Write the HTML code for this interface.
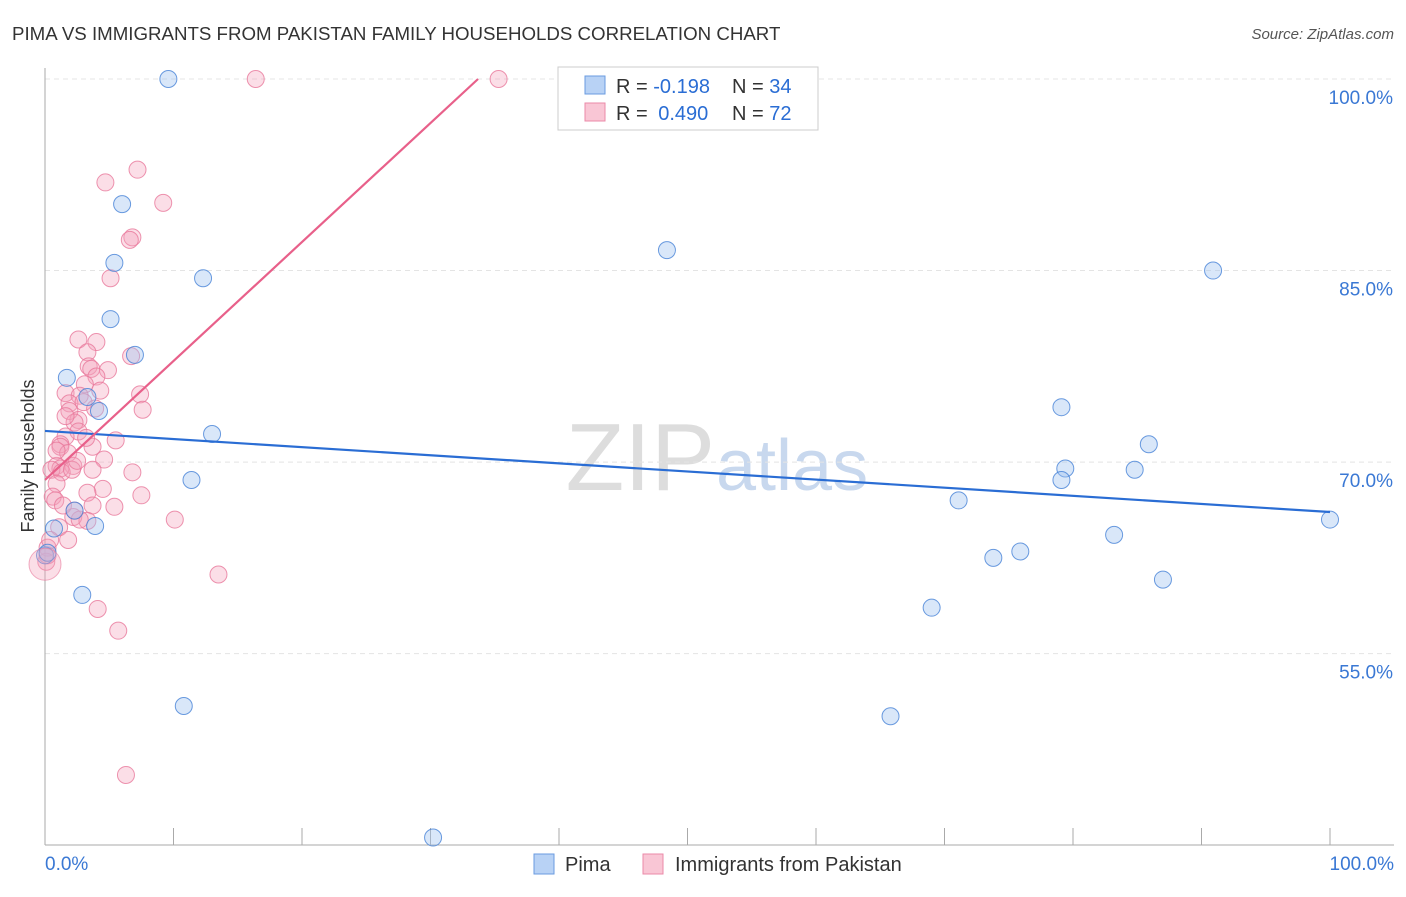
<!DOCTYPE html>
<html><head><meta charset="utf-8"><style>
body{margin:0;background:#fff;font-family:"Liberation Sans",sans-serif}
svg text{font-family:"Liberation Sans",sans-serif}
</style></head><body>
<svg id="c" width="1406" height="892">
<text x="12" y="40" font-size="18.7" fill="#333">PIMA VS IMMIGRANTS FROM PAKISTAN FAMILY HOUSEHOLDS CORRELATION CHART</text>
<text x="1394" y="39" font-size="15" fill="#555" text-anchor="end" font-style="italic">Source: ZipAtlas.com</text>
<text x="715" y="490" font-size="96" fill="#ddd" text-anchor="end" font-family="Liberation Serif">ZIP</text>
<text x="716" y="490" font-size="72" fill="#c8d8ee">atlas</text>
<g id="grid"></g><g id="axes"></g><g id="pts"></g><g id="lines"></g>
<text transform="translate(34,456) rotate(-90)" font-size="18" fill="#333" text-anchor="middle">Family Households</text>
<g>
<rect x="558" y="67" width="260" height="63" fill="#fff" stroke="#ccc"/>
<rect x="585" y="76" width="20" height="18" fill="#b8d2f5" stroke="#6a9be0"/>
<rect x="585" y="103" width="20" height="18" fill="#f9c6d5" stroke="#eb8aa8"/>
<text x="616" y="93" font-size="20" fill="#333">R = <tspan fill="#2a6dd4">-0.198</tspan><tspan x="732">N = </tspan><tspan fill="#2a6dd4">34</tspan></text>
<text x="616" y="120" font-size="20" fill="#333">R = <tspan fill="#2a6dd4" dx="5">0.490</tspan><tspan x="732">N = </tspan><tspan fill="#2a6dd4">72</tspan></text>
</g>
<g>
<rect x="534" y="854" width="20" height="20" fill="#b8d2f5" stroke="#6a9be0"/>
<text x="565" y="871" font-size="20" fill="#333">Pima</text>
<rect x="643" y="854" width="20" height="20" fill="#f9c6d5" stroke="#eb8aa8"/>
<text x="675" y="871" font-size="20" fill="#333">Immigrants from Pakistan</text>
</g>
</svg>
<script>
const yTicks=[100,85,70,55];
const yTickLabels=["100.0%","85.0%","70.0%","55.0%"];
const xTickLabels=["0.0%","100.0%"];
const pimaX=[9.6,6.0,5.4,12.3,5.1,7.0,1.7,4.2,3.3,13.0,11.4,2.3,3.9,0.7,2.9,10.8,0,0.2,30.2,48.4,90.9,79.1,85.9,79.4,79.1,84.8,71.1,83.2,75.9,73.8,87.0,69.0,65.8,100];
const pimaY=[100,90.2,85.6,84.4,81.2,78.4,76.6,74.0,75.1,72.2,68.6,66.2,65.0,64.8,59.6,50.9,62.7,62.9,40.6,86.6,85.0,74.3,71.4,69.5,68.6,69.4,67.0,64.3,63.0,62.5,60.8,58.6,50.1,65.5];
const pakX=[16.4,35.3,7.2,4.7,9.2,6.8,6.6,5.1,2.6,4.0,3.3,6.7,3.4,3.6,4.9,4.0,3.1,7.4,1.6,2.7,1.9,3.0,7.6,1.9,2.6,2.3,2.6,1.6,5.5,1.2,3.7,1.2,1.8,4.6,0.9,2.2,1.2,0.5,1.3,6.8,0.9,4.5,3.3,0.6,3.7,5.4,7.5,2.2,3.3,2.7,10.1,1.1,1.8,13.5,4.1,5.7,6.3,0.2,0.1,0.2,0.4,0.8,1.4,2.1,3.2,2.5,3.7,1.6,4.3,0.9,2.3,3.9];
const pakY=[100,100,92.9,91.9,90.3,87.6,87.4,84.4,79.6,79.4,78.6,78.3,77.5,77.3,77.2,76.7,76.1,75.3,75.4,75.2,74.6,74.7,74.1,74.0,73.3,73.1,72.4,72.0,71.7,71.4,71.2,71.2,70.7,70.2,69.7,69.7,69.5,69.4,69.2,69.2,68.3,67.9,67.6,67.3,66.6,66.5,67.4,65.7,65.4,65.5,65.5,64.9,63.9,61.2,58.5,56.8,45.5,63.3,62.2,62.7,63.9,67.0,66.6,69.4,71.9,70.1,69.4,73.6,75.6,70.9,66.2,74.2];
const blueLine=[[0,72.44],[100,66.09]];
const pinkLine=[[0,68.6],[33.7,100]];
const NS='http://www.w3.org/2000/svg';
const X=v=>45+v*12.85, Y=v=>79+(100-v)*12.77;
function mk(p,t,a){const e=document.createElementNS(NS,t);for(const k in a)e.setAttribute(k,a[k]);document.getElementById(p).appendChild(e);return e;}
yTicks.forEach((t,i)=>{
 const g=mk('grid','line',{x1:45,x2:1394,y1:Y(t),y2:Y(t),stroke:'#e4e4e4','stroke-dasharray':'5,4'});
 
 
 const l=mk('grid','text',{x:1393,y:Y(t)+25,'font-size':19,fill:'#3a78d4','text-anchor':'end'});
 l.textContent=yTickLabels[i];
 
 
});
const ax=mk('axes','line',{x1:45,x2:45,y1:68,y2:845,stroke:'#aaa'});


const bx=mk('axes','line',{x1:45,x2:1394,y1:845,y2:845,stroke:'#aaa'});


for(let i=0;i<=10;i++){const t=mk('axes','line',{x1:X(i*10),x2:X(i*10),y1:828,y2:845,stroke:'#aaa'});
 
 }
[[0,'start',45],[100,'end',1394]].forEach((d,i)=>{const t=mk('axes','text',{x:d[2],y:870,'font-size':19,fill:'#3a78d4','text-anchor':d[1]});t.textContent=xTickLabels[i];
 
 });
pakX.forEach((x,i)=>{const c=mk('pts','circle',{cx:X(x),cy:Y(pakY[i]),r:8.5,fill:'rgba(244,160,186,0.35)',stroke:'rgba(232,120,155,0.8)','stroke-width':1});
 
 });
pimaX.forEach((x,i)=>{const c=mk('pts','circle',{cx:X(x),cy:Y(pimaY[i]),r:8.5,fill:'rgba(160,196,240,0.4)',stroke:'rgba(70,130,215,0.8)','stroke-width':1});
 
 });
const big=mk('pts','circle',{cx:X(0),cy:Y(62),r:16,fill:'rgba(244,160,186,0.35)',stroke:'rgba(232,120,155,0.6)'});


const bl=mk('lines','line',{x1:X(blueLine[0][0]),y1:Y(blueLine[0][1]),x2:X(blueLine[1][0]),y2:Y(blueLine[1][1]),stroke:'#2a6dd4','stroke-width':2.2});


const pl=mk('lines','line',{x1:X(pinkLine[0][0]),y1:Y(pinkLine[0][1]),x2:X(pinkLine[1][0]),y2:Y(pinkLine[1][1]),stroke:'#e8608a','stroke-width':2.2});


</script>
</body></html>
